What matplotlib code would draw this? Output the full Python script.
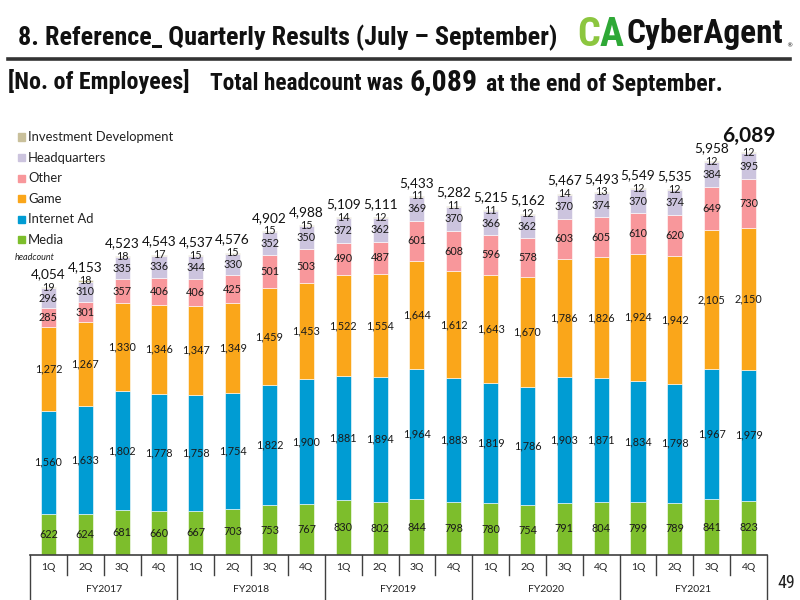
import matplotlib
matplotlib.use("Agg")
import matplotlib.pyplot as plt
from matplotlib.patches import Rectangle
from matplotlib import font_manager
import numpy as np

quarters = ["1Q", "2Q", "3Q", "4Q"] * 5
years = ["FY2017", "FY2018", "FY2019", "FY2020", "FY2021"]

media = [622, 624, 681, 660, 667, 703, 753, 767, 830, 802, 844, 798, 780, 754, 791, 804, 799, 789, 841, 823]
internet_ad = [1560, 1633, 1802, 1778, 1758, 1754, 1822, 1900, 1881, 1894, 1964, 1883, 1819, 1786, 1903, 1871, 1834, 1798, 1967, 1979]
game = [1272, 1267, 1330, 1346, 1347, 1349, 1459, 1453, 1522, 1554, 1644, 1612, 1643, 1670, 1786, 1826, 1924, 1942, 2105, 2150]
other = [285, 301, 357, 406, 406, 425, 501, 503, 490, 487, 601, 608, 596, 578, 603, 605, 610, 620, 649, 730]
headquarters = [296, 310, 335, 336, 344, 330, 352, 350, 372, 362, 369, 370, 366, 362, 370, 374, 370, 374, 384, 395]
investment = [19, 18, 18, 17, 15, 15, 15, 15, 14, 12, 11, 11, 11, 12, 14, 13, 12, 12, 12, 12]
totals = [4054, 4153, 4523, 4543, 4537, 4576, 4902, 4988, 5109, 5111, 5433, 5282, 5215, 5162, 5467, 5493, 5549, 5535, 5958, 6089]

series_names = ["Media", "Internet Ad", "Game", "Other", "Headquarters", "Investment Development"]
colors = ["#7DBE2C", "#009CD3", "#FAA61A", "#F8979B", "#CCC4DE", "#C9C09B"]

W, H = 800, 600

installed = {f.name for f in font_manager.fontManager.ttflist}


def pick(cands):
    for c in cands:
        if c in installed:
            return c
    return "DejaVu Sans"


LABEL_FONT = pick(["Lato", "Open Sans", "DejaVu Sans"])
HEAD_FONT = pick(["Liberation Sans Narrow", "Roboto Condensed", "Open Sans Condensed",
                  "Noto Sans Display", "Roboto", "Lato"])


def ftext(fig, x, y, s, **kw):
    # place text using pixel coords measured from top-left
    return fig.text(x / W, 1 - y / H, s, **kw)


def fit(fig, t, width):
    # scale a text so that it spans `width` pixels
    r = fig.canvas.get_renderer()
    w = t.get_window_extent(renderer=r).width
    t.set_fontsize(t.get_fontsize() * width / w)


def main():
    fig = plt.figure(figsize=(8, 6), dpi=100)
    ax = fig.add_axes([30 / W, 45 / H, 737 / W, 430 / H])
    ax.set_xlim(-0.5, 19.5)
    ax.set_ylim(0, 6505)
    ax.axis("off")

    x = np.arange(len(totals))
    series = [media, internet_ad, game, other, headquarters, investment]
    bottom = np.zeros(len(x))
    for i, (vals, c) in enumerate(zip(series, colors)):
        vals = np.array(vals)
        ax.bar(x, vals, 0.41, bottom=bottom, color=c, edgecolor="white", linewidth=0.4)
        for xi, b, v in zip(x, bottom, vals):
            if i == 5:
                y = b + v
            else:
                y = b + v / 2
            ax.text(xi, y, f"{v:,}", ha="center", va="center", fontsize=7.8,
                    color="#1a1a1a", family=LABEL_FONT)
        bottom = bottom + vals

    for xi, t in zip(x, totals):
        if xi == len(totals) - 1:
            ax.annotate(f"{t:,}", (xi, t), xytext=(0, 12), textcoords="offset points",
                        ha="center", va="center", fontsize=15, fontweight="bold",
                        color="#111111", family=LABEL_FONT)
        else:
            ax.annotate(f"{t:,}", (xi, t), xytext=(0, 9.5), textcoords="offset points",
                        ha="center", va="center", fontsize=9.8,
                        color="#111111", family=LABEL_FONT)

    # category axis drawn by hand
    tr = ax.get_xaxis_transform()
    lc = "#404040"
    ax.plot([-0.5, 19.5], [0, 0], color=lc, lw=1.2, transform=tr, clip_on=False)
    for k in range(21):
        xb = k - 0.5
        if k % 4 == 0:
            ax.plot([xb, xb], [0, -60 / 430], color=lc, lw=1, transform=tr, clip_on=False)
        else:
            ax.plot([xb, xb], [0, -20 / 430], color=lc, lw=1, transform=tr, clip_on=False)
    for xi, q in zip(x, quarters):
        ax.text(xi, -12 / 430, q, ha="center", va="center", fontsize=7.5,
                color="#222222", transform=tr, family=LABEL_FONT)
    for j, yr in enumerate(years):
        ax.text(j * 4 + 1.5, -34 / 430, yr, ha="center", va="center", fontsize=7.5,
                color="#222222", transform=tr, family=LABEL_FONT)

    # legend
    for k, name in enumerate(series_names[::-1]):
        cy = 137 + k * 20.6
        fig.patches.append(Rectangle((18 / W, 1 - (cy + 3.5) / H), 7 / W, 7 / H,
                                     color=colors[::-1][k], transform=fig.transFigure, figure=fig))
        ftext(fig, 28, cy, name, ha="left", va="center", fontsize=9.4,
              color="#222222", family=LABEL_FONT)
    ftext(fig, 15, 258, "headcount", ha="left", va="center", fontsize=6.5,
          style="italic", color="#222222", family=LABEL_FONT)

    # header
    t = ftext(fig, 18, 38, "8. Reference_ Quarterly Results (July \u2013 September)", ha="left",
              va="center", fontsize=18, fontweight="bold", color="#111111", family=HEAD_FONT)
    fit(fig, t, 542)
    fig.add_artist(plt.Line2D([8 / W, 790 / W], [1 - 58.5 / H, 1 - 58.5 / H], color="#333333", lw=2.6))
    t = ftext(fig, 577, 35, "C", ha="left", va="center", fontsize=26, fontweight="bold",
              color="#8CC63F", family=HEAD_FONT)
    fit(fig, t, 23)
    t = ftext(fig, 600, 35, "A", ha="left", va="center", fontsize=26, fontweight="bold",
              color="#2EA836", family=HEAD_FONT)
    fit(fig, t, 24)
    t = ftext(fig, 627, 34, "CyberAgent", ha="left", va="center", fontsize=22, fontweight="bold",
              color="#111111", family=HEAD_FONT)
    fit(fig, t, 156)
    ftext(fig, 786, 46, "\u00ae", ha="left", va="center", fontsize=4.5, color="#111111")

    t = ftext(fig, 8, 82, "[No. of Employees]", ha="left", va="center", fontsize=14,
              fontweight="bold", color="#111111", family=HEAD_FONT)
    fit(fig, t, 182)
    t = ftext(fig, 210, 84, "Total headcount was", ha="left", va="center", fontsize=14,
              fontweight="bold", color="#111111", family=HEAD_FONT)
    fit(fig, t, 194)
    t = ftext(fig, 410, 82, "6,089", ha="left", va="center", fontsize=20,
              fontweight="bold", color="#111111", family=HEAD_FONT)
    fit(fig, t, 68)
    t = ftext(fig, 486, 84, "at the end of September.", ha="left", va="center", fontsize=14,
              fontweight="bold", color="#111111", family=HEAD_FONT)
    fit(fig, t, 238)

    ftext(fig, 786, 583, "49", ha="center", va="center", fontsize=13, color="#222222",
          family=HEAD_FONT)

    fig.savefig("out.png", dpi=100)
    plt.close(fig)


if __name__ == "__main__":
    main()
